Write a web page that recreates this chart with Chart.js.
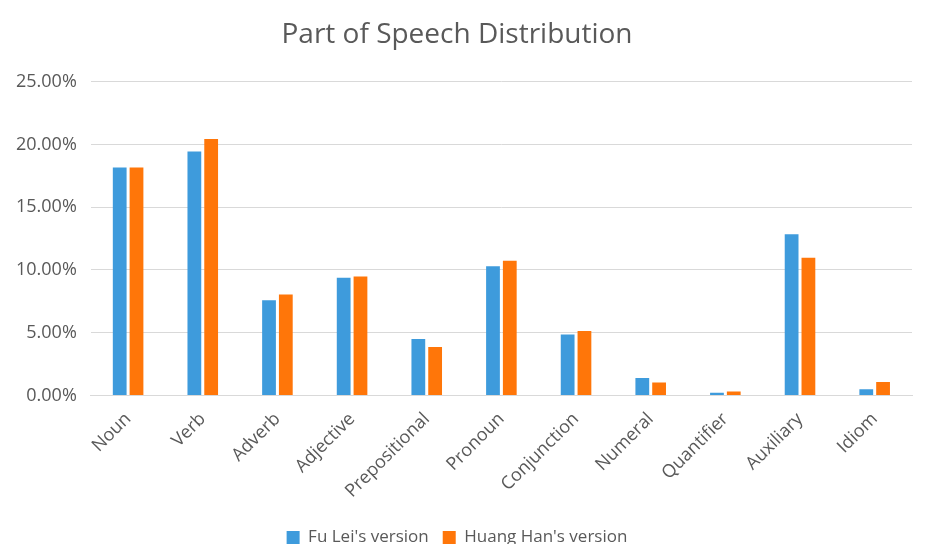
<!DOCTYPE html>
<html>
<head>
<meta charset="utf-8">
<script src="https://cdn.jsdelivr.net/npm/chart.js@4/dist/chart.umd.min.js"></script>
<style>
  html, body { margin: 0; padding: 0; background: #ffffff; }
  #wrap { width: 926px; height: 544px; }
</style>
</head>
<body>
<div id="wrap"><canvas id="chart" width="926" height="544"></canvas></div>
<script>
// Categorias (classes gramaticais)
const categories = ["Noun", "Verb", "Adverb", "Adjective", "Prepositional", "Pronoun",
    "Conjunction", "Numeral", "Quantifier", "Auxiliary", "Idiom"];
// Percentagens
const fuLeiValues = [18.16, 19.44, 7.58, 9.37, 4.49, 10.30, 4.86, 1.39, 0.21, 12.85, 0.50];
const huangHanValues = [18.16, 20.43, 8.04, 9.48, 3.87, 10.74, 5.13, 1.04, 0.32, 10.98, 1.07];
const yTicks = [0, 5, 10, 15, 20, 25];

const fontFamily = "'Open Sans', sans-serif";
const textColor = "#595959";

const ctx = document.getElementById("chart").getContext("2d");
new Chart(ctx, {
    type: "bar",
    data: {
        labels: categories,
        datasets: [
            {
                label: "Fu Lei's version",
                data: fuLeiValues,
                backgroundColor: "#3e9bdc",
                categoryPercentage: 0.45,
                barPercentage: 0.82
            },
            {
                label: "Huang Han's version",
                data: huangHanValues,
                backgroundColor: "#ff7609",
                categoryPercentage: 0.45,
                barPercentage: 0.82
            }
        ]
    },
    plugins: [{
        id: "whiteBg",
        beforeDraw(chart) {
            const c = chart.ctx;
            c.save();
            c.fillStyle = "#ffffff";
            c.fillRect(0, 0, chart.width, chart.height);
            c.restore();
        }
    }],
    options: {
        responsive: false,
        animation: false,
        layout: { padding: { left: 2, right: 14, top: 10, bottom: -12 } },
        scales: {
            x: {
                grid: { display: false, drawTicks: false },
                border: { color: "#d9d9d9", width: 1 },
                ticks: {
                    color: textColor,
                    font: { family: fontFamily, size: 18 },
                    maxRotation: 45,
                    minRotation: 45,
                    padding: 13
                }
            },
            y: {
                min: 0,
                max: 25,
                afterBuildTicks(axis) {
                    axis.ticks = yTicks.map(v => ({ value: v }));
                },
                grid: { color: "#d9d9d9", drawTicks: false, lineWidth: 1 },
                border: { display: false },
                ticks: {
                    color: textColor,
                    font: { family: fontFamily, size: 18 },
                    padding: 14,
                    callback: function (value) {
                        return Number(value).toFixed(2) + "%";
                    }
                }
            }
        },
        plugins: {
            title: {
                display: true,
                text: "Part of Speech Distribution",
                color: textColor,
                font: { family: fontFamily, size: 28, weight: "normal" },
                padding: { top: 8, bottom: 30 }
            },
            legend: {
                position: "bottom",
                labels: {
                    color: textColor,
                    font: { family: fontFamily, size: 17 },
                    boxWidth: 13,
                    boxHeight: 13,
                    padding: 14
                }
            },
            tooltip: { enabled: false }
        }
    }
});
</script>
</body>
</html>
